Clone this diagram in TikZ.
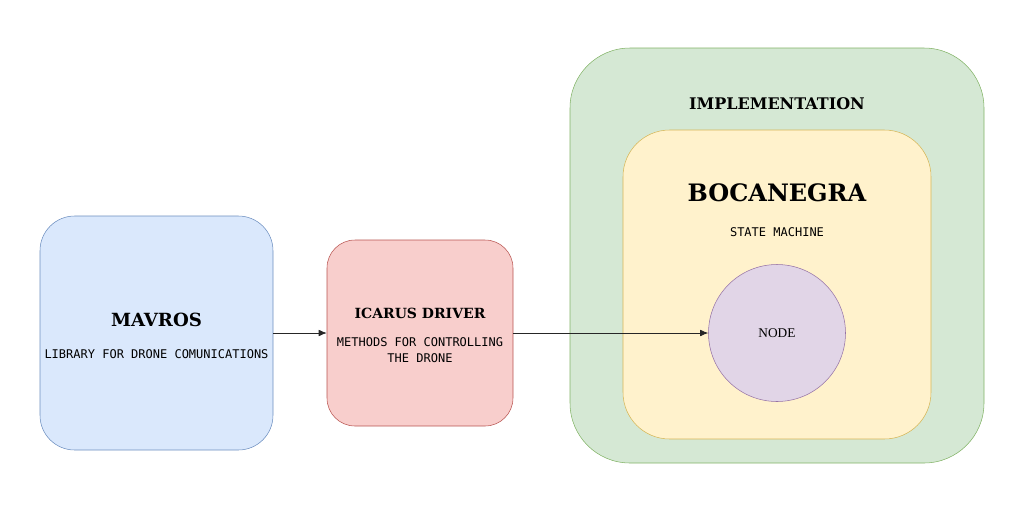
\documentclass[tikz,border=0pt]{standalone}
\usepackage{fontspec}
\usetikzlibrary{arrows.meta}
\setmainfont{Liberation Serif}
\newfontfamily\titlefont{DejaVu Serif}
\newfontfamily\monofont{DejaVu Sans Mono}
\definecolor{blueFill}{HTML}{DAE8FC}
\definecolor{blueLine}{HTML}{6C8EBF}
\definecolor{redFill}{HTML}{F8CECC}
\definecolor{redLine}{HTML}{B85450}
\definecolor{greenFill}{HTML}{D5E8D4}
\definecolor{greenLine}{HTML}{82B366}
\definecolor{yellowFill}{HTML}{FFF2CC}
\definecolor{yellowLine}{HTML}{D6B656}
\definecolor{purpleFill}{HTML}{E1D5E7}
\definecolor{purpleLine}{HTML}{9673A6}

\begin{document}
\begin{tikzpicture}[x=0.75pt,y=-0.75pt,
  box/.style={draw, rectangle, inner sep=0pt},
  mono/.style={font=\monofont\fontsize{9}{11.5}\selectfont, align=center},
  link/.style={-{Latex[length=6pt,width=5pt]}, semithick, black!85}]
\useasboundingbox (0,0) rectangle (1036,519);

% MAVROS (left)
\node[box, fill=blueFill, draw=blueLine, rounded corners=26pt,
  minimum width=174.75pt, minimum height=175.5pt] (mavros) at (156.5,333) {};
\node[font=\titlefont\bfseries\fontsize{13.6}{16}\selectfont] (mavrosT) at (156.5,320) {MAVROS};
\node[mono] (mavrosD) at (156.5,354) {LIBRARY FOR DRONE COMUNICATIONS};

% Icarus driver (middle)
\node[box, fill=redFill, draw=redLine, rounded corners=21pt,
  minimum width=139.5pt, minimum height=139.5pt] (icarus) at (420,333) {};
\node[font=\titlefont\bfseries\fontsize{10.5}{13}\selectfont] (icarusT) at (420,313) {ICARUS DRIVER};
\node[mono] (icarusD) at (420,350) {METHODS FOR CONTROLLING\\THE DRONE};

% Implementation (right)
\node[box, fill=greenFill, draw=greenLine, rounded corners=45pt,
  minimum width=310.5pt, minimum height=311.25pt] (impl) at (777,255.5) {};
\node[font=\titlefont\bfseries\fontsize{12}{14}\selectfont] (implT) at (777,104) {IMPLEMENTATION};
\node[box, fill=yellowFill, draw=yellowLine, rounded corners=35pt,
  minimum width=231pt, minimum height=231.75pt] (boca) at (777,284.5) {};
\node[font=\titlefont\bfseries\fontsize{18}{22}\selectfont] (bocaT) at (777,193) {BOCANEGRA};
\node[mono] (bocaD) at (777,232) {STATE MACHINE};
\node[draw=purpleLine, fill=purpleFill, circle, minimum size=102.75pt,
  inner sep=0pt, font=\fontsize{10}{12}\selectfont] (rosnode) at (777,333) {NODE};

% Arrows
\draw[link] (mavros.east) -- (icarus.west);
\draw[link] (icarus.east) -- (rosnode.west);
\end{tikzpicture}
\end{document}
